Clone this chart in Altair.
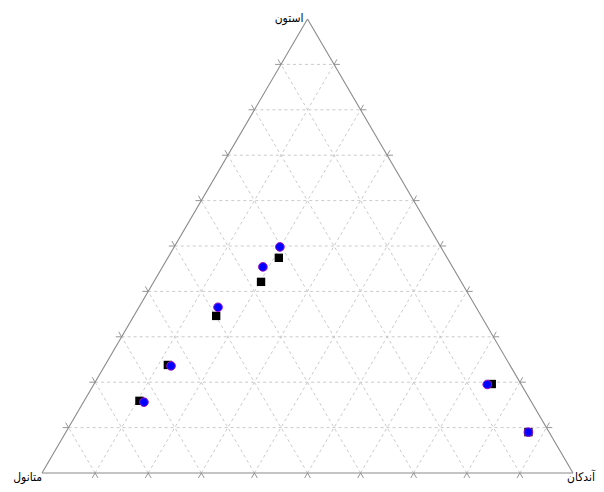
import altair as alt
import pandas as pd

# --- data: ternary compositions (fractions) ---
# components: acetone (top), methanol (bottom-left), undecane (bottom-right)
acetone_circle = [0.498, 0.454, 0.365, 0.236, 0.156, 0.195, 0.090]
undecane_circle = [0.199, 0.189, 0.149, 0.125, 0.114, 0.741, 0.871]
methanol_circle = [0.303, 0.357, 0.486, 0.639, 0.730, 0.064, 0.039]

acetone_square = [0.474, 0.421, 0.346, 0.238, 0.159, 0.196, 0.090]
undecane_square = [0.209, 0.202, 0.155, 0.118, 0.104, 0.749, 0.871]
methanol_square = [0.317, 0.377, 0.499, 0.644, 0.737, 0.055, 0.039]

vertex_labels = ["استون", "متانول", "آندکان"]
grid_steps = [0.1, 0.2, 0.3, 0.4, 0.5, 0.6, 0.7, 0.8, 0.9]

W, H = 588, 476
xs = alt.Scale(domain=[-0.06403, 1.04331], nice=False, zero=False)
ys = alt.Scale(domain=[-0.02423, 1.02423], nice=False, zero=False)

# --- structural segments (grid, edges, ticks) in ternary coords (a, u) ---
grid = []
for f in grid_steps:
    grid.append((f, 0.0, f, 1 - f))
    grid.append((0.0, f, 1 - f, f))
    grid.append((0.0, 1 - f, 1 - f, 0.0))
edges = [(0, 0, 0, 1), (0, 1, 1, 0), (1, 0, 0, 0)]
d = 0.011
ticks = []
for f in grid_steps:
    # bottom edge
    ticks.append((0, f, -d, f))
    ticks.append((0, f, -d, f + d))
    # left edge
    ticks.append((f, 0, f, -d))
    ticks.append((f, 0, f + d, -d))
    # right edge
    ticks.append((f, 1 - f, f, 1 - f + d))
    ticks.append((f, 1 - f, f + d, 1 - f))


def seg_df(segs):
    return pd.DataFrame(segs, columns=["a1", "u1", "a2", "u2"])


def seg_layer(df, color, dash=None, width=1.0):
    kw = dict(color=color, strokeWidth=width)
    if dash:
        kw["strokeDash"] = dash
    return (
        alt.Chart(df)
        .transform_calculate(
            X1="datum.u1 + datum.a1/2", Y1="datum.a1",
            X2="datum.u2 + datum.a2/2", Y2="datum.a2",
        )
        .mark_rule(**kw)
        .encode(
            x=alt.X("X1:Q", scale=xs, axis=None),
            y=alt.Y("Y1:Q", scale=ys, axis=None),
            x2="X2:Q",
            y2="Y2:Q",
        )
    )


grid_layer = seg_layer(seg_df(grid), "#c4c4c4", dash=[3, 3], width=0.9)
edge_layer = seg_layer(seg_df(edges), "#8a8a8a", width=1.1)
tick_layer = seg_layer(seg_df(ticks), "#8a8a8a", width=0.9)

sq = pd.DataFrame({"a": acetone_square, "u": undecane_square, "m": methanol_square})
ci = pd.DataFrame({"a": acetone_circle, "u": undecane_circle, "m": methanol_circle})


def pts(df, mark):
    return (
        alt.Chart(df)
        .transform_calculate(X="datum.u + datum.a/2", Y="datum.a")
        .encode(
            x=alt.X("X:Q", scale=xs, axis=None),
            y=alt.Y("Y:Q", scale=ys, axis=None),
        )
        .mark_point(**mark)
    )


square_layer = pts(sq, dict(shape="square", filled=True, color="black", size=70, opacity=1))
circle_layer = pts(ci, dict(shape="circle", filled=True, fill="#0000ff", stroke="#a010c8",
                            strokeWidth=1, size=75, opacity=1))

labels = pd.DataFrame({
    "label": vertex_labels,
    "a": [1.0, 0.0, 0.0],
    "u": [0.0, 0.0, 1.0],
})


def label_layer(i, align, dx, dy):
    return (
        alt.Chart(labels.iloc[[i]])
        .transform_calculate(X="datum.u + datum.a/2", Y="datum.a")
        .mark_text(align=align, baseline="alphabetic", dx=dx, dy=dy,
                   font="DejaVu Sans Condensed, DejaVu Sans", fontSize=12, color="black")
        .encode(
            x=alt.X("X:Q", scale=xs, axis=None),
            y=alt.Y("Y:Q", scale=ys, axis=None),
            text="label:N",
        )
    )


chart = (
    alt.layer(
        grid_layer, edge_layer, tick_layer, square_layer, circle_layer,
        label_layer(0, "right", -4, 3),
        label_layer(1, "right", 0, 8),
        label_layer(2, "right", 22, 8),
    )
    .properties(width=W, height=H, padding=0, autosize=alt.AutoSizeParams(type="none"))
    .configure_view(stroke=None)
)

chart.save("out.html", embed_options={"renderer": "svg", "actions": False})
